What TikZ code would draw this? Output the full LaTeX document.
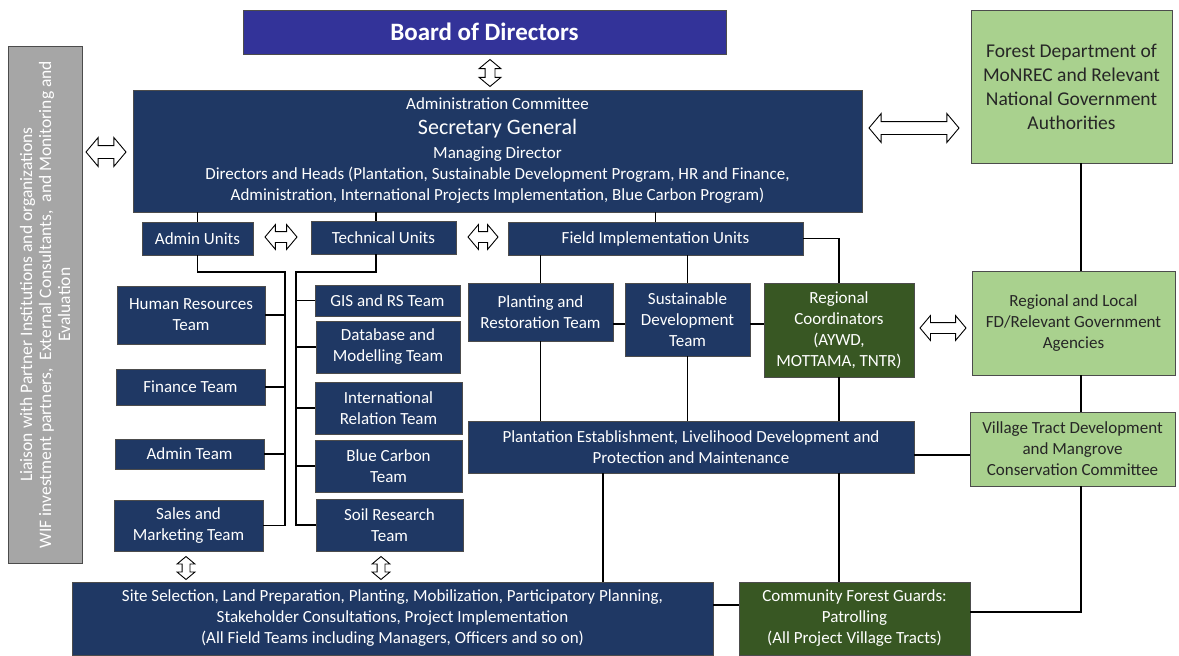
\documentclass[tikz,border=0pt]{standalone}
\usepackage{fontspec}
\setmainfont{Carlito}
\usetikzlibrary{shapes.arrows}

\definecolor{boardblue}{RGB}{51,51,153}
\definecolor{navy}{RGB}{31,56,100}
\definecolor{agencygreen}{RGB}{169,209,142}
\definecolor{guardgreen}{RGB}{56,87,35}
\definecolor{liaisongray}{RGB}{166,166,166}

\begin{document}
\begin{tikzpicture}[
		x=1pt,y=-1pt,
		every node/.append style={
			draw=black!70,
			line width=0.7pt,
			inner sep=0pt,
			align=center,
		},
		unit/.style={fill=navy,text=white,font=\fontsize{17}{21}\selectfont},
		agency/.style={fill=agencygreen,text=black!85,font=\fontsize{17}{21}\selectfont},
		guard/.style={fill=guardgreen,text=white,font=\fontsize{17}{21}\selectfont},
		dblarrow/.style={double arrow,draw=black,fill=white,line width=0.9pt,
			inner xsep=0pt,double arrow tip angle=100},
		link/.style={line width=1.6pt},
	]
	\path[fill=white] (0,0) rectangle (1179,656);
	% top of the chart
	\node[fill=boardblue,text=white,font=\bfseries\fontsize{25}{30}\selectfont,
		minimum width=483,minimum height=44] (board) at (484.5,32) {Board of Directors};
	\node[unit,minimum width=729,minimum height=122] (committee) at (497.5,151) {
		Administration Committee\\[4pt]
		{\fontsize{22}{26}\selectfont Secretary General}\\[3pt]
		Managing Director\\
		Directors and Heads (Plantation, Sustainable Development Program, HR and Finance,\\
		Administration, International Projects Implementation, Blue Carbon Program)};
	\node[fill=liaisongray,text=white,rotate=90,font=\fontsize{17.5}{19}\selectfont,
		minimum width=517,minimum height=74] (liaison) at (45,304.5) {
		Liaison with Partner Institutions and organizations\\
		WIF investment partners,\ \ External Consultants,\ \ and Monitoring and\\
		Evaluation};
	\node[agency,font=\fontsize{19.5}{24}\selectfont,minimum width=201,minimum height=153]
		(forestdept) at (1071.5,86.5) {Forest Department of\\MoNREC and Relevant\\National Government\\Authorities};
	\node[dblarrow,rotate=90,minimum height=27,inner ysep=4.5pt,double arrow head extend=6pt] (boardarrow) at (490,73) {};
	\node[dblarrow,minimum height=40,inner ysep=6pt,double arrow head extend=8pt] (liaisonarrow) at (106,152) {};
	\node[dblarrow,minimum height=90,inner ysep=6pt,double arrow head extend=8pt] (nationalarrow) at (914,128) {};
	% the three unit heads
	\node[unit,minimum width=111,minimum height=33] (adminunits) at (197.5,238.5) {Admin Units};
	\node[unit,minimum width=145,minimum height=33] (techunits) at (383.5,237.5) {Technical Units};
	\node[unit,minimum width=295,minimum height=33] (fieldunits) at (655.5,238.5) {Field Implementation Units};
	\node[dblarrow,minimum height=32,inner ysep=5pt,double arrow head extend=7pt] (unitarrowa) at (281,237) {};
	\node[dblarrow,minimum height=30,inner ysep=5pt,double arrow head extend=7pt] (unitarrowb) at (483,237) {};
	% admin teams
	\node[unit,minimum width=148,minimum height=58] (hr) at (191,315) {Human Resources\\Team};
	\node[unit,minimum width=149,minimum height=36] (finance) at (190.5,387) {Finance Team};
	\node[unit,minimum width=149,minimum height=30] (adminteam) at (189.5,454) {Admin Team};
	\node[unit,minimum width=149,minimum height=51] (sales) at (188.5,525.5) {Sales and\\Marketing Team};
	% technical teams
	\node[unit,minimum width=145,minimum height=31] (gis) at (387.5,300.5) {GIS and RS Team};
	\node[unit,minimum width=144,minimum height=52] (database) at (388,347) {Database and\\Modelling Team};
	\node[unit,minimum width=147,minimum height=52] (relation) at (388.5,408) {International\\Relation Team};
	\node[unit,minimum width=147,minimum height=52] (bluecarbon) at (388.5,466) {Blue Carbon\\Team};
	\node[unit,minimum width=147,minimum height=52] (soil) at (389.5,525) {Soil Research\\Team};
	% field teams
	\node[unit,minimum width=145,minimum height=58] (planting) at (540.5,312) {Planting and\\Restoration Team};
	\node[unit,minimum width=125,minimum height=73] (sustainable) at (687.5,319.5) {Sustainable\\Development\\Team};
	\node[guard,minimum width=150,minimum height=94] (regional) at (839,330) {Regional\\Coordinators\\(AYWD,\\MOTTAMA, TNTR)};
	\node[dblarrow,minimum height=46,inner ysep=5pt,double arrow head extend=7pt] (regionalarrow) at (943,328) {};
	\node[agency,minimum width=203,minimum height=104] (localfd) at (1073.5,323) {Regional and Local\\FD/Relevant Government\\Agencies};
	\node[unit,minimum width=446,minimum height=52] (plantation) at (691,447) {Plantation Establishment, Livelihood Development and\\Protection and Maintenance};
	\node[agency,minimum width=205,minimum height=74] (village) at (1072.5,449) {Village Tract Development\\and Mangrove\\Conservation Committee};
	% bottom row
	\node[unit,minimum width=641,minimum height=73] (site) at (392.5,618.5) {Site Selection, Land Preparation, Planting, Mobilization, Participatory Planning,\\Stakeholder Consultations, Project Implementation\\(All Field Teams including Managers, Officers and so on)};
	\node[guard,minimum width=231,minimum height=73] (guards) at (854.5,618.5) {Community Forest Guards:\\Patrolling\\(All Project Village Tracts)};
	\node[dblarrow,rotate=90,minimum height=23,inner ysep=3.5pt,double arrow head extend=5pt] (sitearrowa) at (186,568) {};
	\node[dblarrow,rotate=90,minimum height=23,inner ysep=3.5pt,double arrow head extend=5pt] (sitearrowb) at (381,568) {};
	% helper points for the connection lines
	\coordinate (admintrunk) at (285,272);
	\coordinate (techtrunk) at (296,272);
	\coordinate (techdrop) at (376,0);
	\coordinate (fieldrow) at (0,324);
	\coordinate (villagerow) at (0,455);
	\coordinate (sitedrop) at (603,0);
	\coordinate (siterow) at (0,605);
	\coordinate (guardrow) at (0,612);
	\coordinate (agencyline) at (1081,0);
	% draw the connection lines
	\draw[link] (committee.south -| adminunits) -- (adminunits.north);
	\draw[link] (committee.south -| techdrop) -- (techunits.north -| techdrop);
	\draw[link] (committee.south -| fieldunits) -- (fieldunits.north);
	\draw[link] (adminunits.south) |- (admintrunk) |- (sales.east);
	\draw[link] (hr.east) -- (hr.east -| admintrunk);
	\draw[link] (finance.east) -- (finance.east -| admintrunk);
	\draw[link] (adminteam.east) -- (adminteam.east -| admintrunk);
	\draw[link] (techunits.south -| techdrop) |- (techtrunk) |- (soil.west);
	\draw[link] (gis.west) -- (gis.west -| techtrunk);
	\draw[link] (database.west) -- (database.west -| techtrunk);
	\draw[link] (relation.west) -- (relation.west -| techtrunk);
	\draw[link] (bluecarbon.west) -- (bluecarbon.west -| techtrunk);
	\draw[link] (fieldunits.south -| planting) -- (planting.north);
	\draw[link] (fieldunits.south -| sustainable) -- (sustainable.north);
	\draw[link] (fieldunits.east) -| (regional.north);
	\draw[link] (planting.east |- fieldrow) -- (sustainable.west |- fieldrow);
	\draw[link] (sustainable.east |- fieldrow) -- (regional.west |- fieldrow);
	\draw[link] (planting.south) -- (plantation.north -| planting);
	\draw[link] (sustainable.south) -- (plantation.north -| sustainable);
	\draw[link] (regional.south) -- (plantation.north -| regional);
	\draw[link] (plantation.east |- villagerow) -- (village.west |- villagerow);
	\draw[link] (plantation.south -| sitedrop) -- (site.north -| sitedrop);
	\draw[link] (plantation.south -| regional) -- (guards.north -| regional);
	\draw[link] (site.east |- siterow) -- (guards.west |- siterow);
	\draw[link] (guards.east |- guardrow) -| (village.south -| agencyline);
	\draw[link] (forestdept.south -| agencyline) -- (localfd.north -| agencyline);
	\draw[link] (localfd.south -| agencyline) -- (village.north -| agencyline);
\end{tikzpicture}
\end{document}
